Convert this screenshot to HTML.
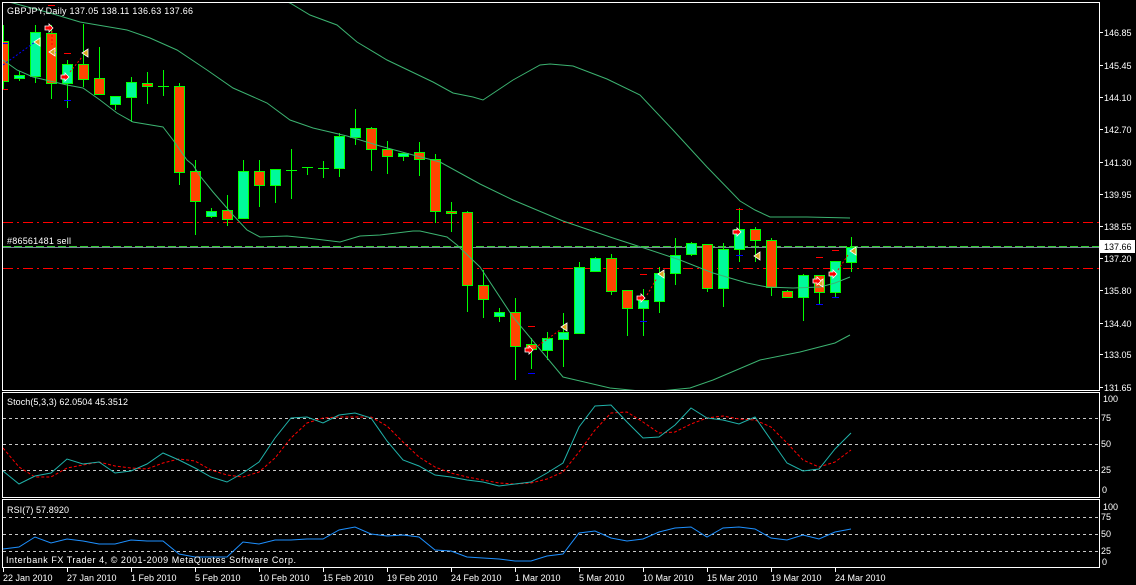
<!DOCTYPE html>
<html><head><meta charset="utf-8"><style>
html,body{margin:0;padding:0;background:#000;}
svg{display:block;}
text{font-family:"Liberation Sans",sans-serif;font-size:9px;fill:#fff;}
</style></head><body>
<svg width="1136" height="585" viewBox="0 0 1136 585" xmlns="http://www.w3.org/2000/svg">
<defs>
<clipPath id="cm"><rect x="3" y="3" width="1096" height="387"/></clipPath>
<clipPath id="cs"><rect x="3" y="393" width="1096" height="104"/></clipPath>
<clipPath id="cr"><rect x="3" y="500" width="1096" height="67"/></clipPath>
</defs>
<rect width="1136" height="585" fill="#000"/>

<g clip-path="url(#cm)">
<!-- horizontal order lines -->
<line x1="3" y1="222.5" x2="1099" y2="222.5" stroke="#ff0000" stroke-dasharray="10 4 2 4" shape-rendering="crispEdges"/>
<line x1="3" y1="268.5" x2="1099" y2="268.5" stroke="#ff0000" stroke-dasharray="10 4 2 4" shape-rendering="crispEdges"/>
<line x1="3" y1="246.5" x2="1099" y2="246.5" stroke="#32cd32" stroke-width="1.5" stroke-dasharray="8 3" shape-rendering="crispEdges"/>
<line x1="3" y1="247.5" x2="1099" y2="247.5" stroke="#778899" shape-rendering="crispEdges"/>

<!-- candles -->
<g shape-rendering="crispEdges">
<g fill="#00ff00">
<rect x="3" y="25" width="1" height="65"/>
<rect x="19" y="71" width="1" height="10"/>
<rect x="35" y="25" width="1" height="58"/>
<rect x="51" y="25" width="1" height="74"/>
<rect x="67" y="60" width="1" height="48"/>
<rect x="83" y="24" width="1" height="63"/>
<rect x="99" y="47" width="1" height="47"/>
<rect x="115" y="96" width="1" height="14"/>
<rect x="131" y="77" width="1" height="45"/>
<rect x="147" y="72" width="1" height="32"/>
<rect x="163" y="70" width="1" height="26"/>
<rect x="179" y="83" width="1" height="102"/>
<rect x="195" y="160" width="1" height="75"/>
<rect x="211" y="208" width="1" height="10"/>
<rect x="227" y="195" width="1" height="31"/>
<rect x="243" y="160" width="1" height="59"/>
<rect x="259" y="160" width="1" height="47"/>
<rect x="275" y="169" width="1" height="34"/>
<rect x="291" y="149" width="1" height="50"/>
<rect x="307" y="167" width="1" height="8"/>
<rect x="323" y="161" width="1" height="17"/>
<rect x="339" y="133" width="1" height="44"/>
<rect x="355" y="109" width="1" height="36"/>
<rect x="371" y="127" width="1" height="44"/>
<rect x="387" y="141" width="1" height="33"/>
<rect x="403" y="153" width="1" height="8"/>
<rect x="419" y="142" width="1" height="34"/>
<rect x="435" y="154" width="1" height="69"/>
<rect x="451" y="202" width="1" height="30"/>
<rect x="467" y="211" width="1" height="101"/>
<rect x="483" y="270" width="1" height="48"/>
<rect x="499" y="308" width="1" height="14"/>
<rect x="515" y="298" width="1" height="82"/>
<rect x="531" y="338" width="1" height="31"/>
<rect x="547" y="332" width="1" height="28"/>
<rect x="563" y="313" width="1" height="54"/>
<rect x="579" y="262" width="1" height="71"/>
<rect x="595" y="257" width="1" height="14"/>
<rect x="611" y="254" width="1" height="41"/>
<rect x="627" y="290" width="1" height="46"/>
<rect x="643" y="289" width="1" height="47"/>
<rect x="659" y="267" width="1" height="46"/>
<rect x="675" y="238" width="1" height="47"/>
<rect x="691" y="242" width="1" height="14"/>
<rect x="707" y="244" width="1" height="48"/>
<rect x="723" y="243" width="1" height="64"/>
<rect x="739" y="208" width="1" height="54"/>
<rect x="755" y="227" width="1" height="35"/>
<rect x="771" y="238" width="1" height="58"/>
<rect x="787" y="290" width="1" height="7"/>
<rect x="803" y="274" width="1" height="47"/>
<rect x="819" y="275" width="1" height="30"/>
<rect x="835" y="261" width="1" height="37"/>
<rect x="851" y="237" width="1" height="35"/>
<!-- dojis -->
<rect x="158" y="86" width="11" height="1"/>
<rect x="286" y="170" width="11" height="1"/>
<rect x="302" y="167" width="11" height="1"/>
<rect x="318" y="168" width="11" height="1"/>
</g>
<g stroke="#00ff00" stroke-width="1">
<!-- bear bodies -->
<g fill="#ff4500">
<rect x="-1.5" y="41.5" width="10" height="40"/>
<rect x="46.5" y="33.5" width="10" height="50"/>
<rect x="78.5" y="64.5" width="10" height="15"/>
<rect x="94.5" y="78.5" width="10" height="16"/>
<rect x="142.5" y="83.5" width="10" height="3"/>
<rect x="174.5" y="86.5" width="10" height="86"/>
<rect x="190.5" y="171.5" width="10" height="30"/>
<rect x="222.5" y="210.5" width="10" height="9"/>
<rect x="254.5" y="171.5" width="10" height="14"/>
<rect x="366.5" y="128.5" width="10" height="21"/>
<rect x="382.5" y="149.5" width="10" height="7"/>
<rect x="414.5" y="152.5" width="10" height="7"/>
<rect x="430.5" y="159.5" width="10" height="52"/>
<rect x="446.5" y="211.5" width="10" height="2"/>
<rect x="462.5" y="212.5" width="10" height="73"/>
<rect x="478.5" y="285.5" width="10" height="14"/>
<rect x="510.5" y="312.5" width="10" height="34"/>
<rect x="526.5" y="344.5" width="10" height="5"/>
<rect x="606.5" y="258.5" width="10" height="33"/>
<rect x="622.5" y="290.5" width="10" height="18"/>
<rect x="702.5" y="244.5" width="10" height="44"/>
<rect x="750.5" y="229.5" width="10" height="11"/>
<rect x="766.5" y="240.5" width="10" height="47"/>
<rect x="782.5" y="291.5" width="10" height="6"/>
<rect x="814.5" y="275.5" width="10" height="17"/>
</g>
<!-- bull bodies -->
<g fill="#00fa9a">
<rect x="14.5" y="75.5" width="10" height="3"/>
<rect x="30.5" y="32.5" width="10" height="44"/>
<rect x="62.5" y="64.5" width="10" height="19"/>
<rect x="110.5" y="96.5" width="10" height="8"/>
<rect x="126.5" y="82.5" width="10" height="15"/>
<rect x="206.5" y="211.5" width="10" height="5"/>
<rect x="238.5" y="171.5" width="10" height="47"/>
<rect x="270.5" y="169.5" width="10" height="16"/>
<rect x="334.5" y="136.5" width="10" height="32"/>
<rect x="350.5" y="128.5" width="10" height="9"/>
<rect x="398.5" y="153.5" width="10" height="3"/>
<rect x="494.5" y="312.5" width="10" height="4"/>
<rect x="542.5" y="338.5" width="10" height="12"/>
<rect x="558.5" y="332.5" width="10" height="7"/>
<rect x="574.5" y="267.5" width="10" height="66"/>
<rect x="590.5" y="258.5" width="10" height="13"/>
<rect x="638.5" y="300.5" width="10" height="8"/>
<rect x="654.5" y="273.5" width="10" height="28"/>
<rect x="670.5" y="255.5" width="10" height="18"/>
<rect x="686.5" y="243.5" width="10" height="11"/>
<rect x="718.5" y="249.5" width="10" height="39"/>
<rect x="734.5" y="229.5" width="10" height="20"/>
<rect x="798.5" y="275.5" width="10" height="22"/>
<rect x="830.5" y="261.5" width="10" height="31"/>
<rect x="846.5" y="247.5" width="10" height="15"/>
</g>
</g>
</g>

<!-- Bollinger bands -->
<g fill="none" stroke="#3cb371" stroke-width="1">
<polyline points="287,2 290,3 310,15 337,25 357,42 387,60 433,82 453,93 473,97 483,100 513,80 540,65 550,64 573,66 607,79 640,95 673,130 707,167 740,201 755,210 770,217 807,217 850,218"/>
<polyline points="3,1 13,3 50,13 80,22 127,30 150,38 177,50 207,70 233,88 267,103 290,120 313,128 347,136 380,146 413,155 440,162 480,184 513,200 563,221 613,238 647,249 680,260 713,273 747,283 767,287 793,288 820,287 835,283 850,277"/>
<polyline points="3,60 17,70 33,77 67,85 83,88 100,100 117,113 133,122 163,127 173,140 187,160 193,165 200,176 213,192 233,215 247,230 260,237 287,236 307,238 340,242 360,236 380,235 413,231 420,231 447,237 457,245 480,267 513,317 563,377 610,388 650,392 690,388 713,380 760,360 800,352 835,343 850,335"/>
</g>

<!-- trade lines -->
<g fill="none" stroke-width="1" stroke-dasharray="2 2">
<line x1="3" y1="65" x2="35" y2="42" stroke="#0000ff"/>
<line x1="52" y1="31" x2="52" y2="47" stroke="#ff0000"/>
<line x1="70" y1="72" x2="82" y2="57" stroke="#ff0000"/>
<line x1="535" y1="348" x2="560" y2="330" stroke="#ff0000"/>
<line x1="647" y1="295" x2="657" y2="278" stroke="#ff0000"/>
<line x1="838" y1="270" x2="848" y2="255" stroke="#ff0000"/>
</g>
<!-- SL/TP dashes -->
<g shape-rendering="crispEdges">
<g fill="#ff0000">
<rect x="3" y="89" width="5" height="1"/>
<rect x="48" y="5" width="7" height="1"/>
<rect x="64" y="53" width="7" height="1"/>
<rect x="528" y="326" width="7" height="1"/>
<rect x="640" y="274" width="7" height="1"/>
<rect x="736" y="209" width="7" height="1"/>
<rect x="816" y="257" width="7" height="1"/>
<rect x="832" y="250" width="7" height="1"/>
</g>
<g fill="#0000ff">
<rect x="3" y="43" width="5" height="1"/>
<rect x="49" y="52" width="7" height="1"/>
<rect x="64" y="100" width="7" height="1"/>
<rect x="528" y="373" width="7" height="1"/>
<rect x="640" y="321" width="7" height="1"/>
<rect x="736" y="255" width="7" height="1"/>
<rect x="816" y="304" width="7" height="1"/>
<rect x="832" y="297" width="7" height="1"/>
</g>
</g>
<!-- close markers (left triangles) -->
<g fill="#daa520" stroke="#ffffff" stroke-width="0.8">
<polygon points="34,42 40,38 40,46"/>
<polygon points="49,52 55,48 55,56"/>
<polygon points="82,53 88,49 88,57"/>
<polygon points="561,327 567,323 567,331"/>
<polygon points="658,274 664,270 664,278"/>
<polygon points="754,256 760,252 760,260"/>
<polygon points="817,283 823,279 823,287"/>
<polygon points="850,251 856,247 856,255"/>
</g>
<!-- open markers (right arrows) -->
<g fill="#ff0000" stroke="#ffffff" stroke-width="0.8">
<polygon points="45,26 49,26 49,24 53,28 49,32 49,30 45,30"/>
<polygon points="61,75 65,75 65,73 69,77 65,81 65,79 61,79"/>
<polygon points="525,348 529,348 529,346 533,350 529,354 529,352 525,352"/>
<polygon points="637,296 641,296 641,294 645,298 641,302 641,300 637,300"/>
<polygon points="733,230 737,230 737,228 741,232 737,236 737,234 733,234"/>
<polygon points="813,279 817,279 817,277 821,281 817,285 817,283 813,283"/>
<polygon points="829,272 833,272 833,270 837,274 833,278 833,276 829,276"/>
</g>
</g>

<!-- Stochastic -->
<g clip-path="url(#cs)">
<g stroke="#c8c8c8" stroke-dasharray="3 3" shape-rendering="crispEdges">
<line x1="3" y1="418.5" x2="1099" y2="418.5"/>
<line x1="3" y1="444.5" x2="1099" y2="444.5"/>
<line x1="3" y1="470.5" x2="1099" y2="470.5"/>
</g>
<polyline fill="none" stroke="#ff0000" stroke-width="1" stroke-dasharray="3 2" points="3,448 19,467 35,477 51,477 67,468 83,465 99,462 115,466 131,468 147,469 163,463 179,459 195,461 211,470 227,475 243,477 259,472 275,458 291,438 307,423 323,418 339,417 355,417 371,417 387,426 403,442 419,457 435,467 451,473 467,477 483,480 499,483 515,484 531,483 547,479 563,472 579,452 595,430 611,413 627,412 643,422 659,433 675,432 691,424 707,418 723,416 739,419 755,420 771,427 787,443 803,460 819,467 835,462 851,450"/>
<polyline fill="none" stroke="#20b2aa" stroke-width="1" points="3,471 19,484 35,476 51,473 67,459 83,464 99,462 115,473 131,471 147,464 163,453 179,460 195,468 211,477 227,482 243,473 259,462 275,438 291,418 307,417 323,423 339,415 355,413 371,418 387,441 403,460 419,466 435,475 451,477 467,480 483,482 499,486 515,484 531,482 547,473 563,463 579,427 595,406 611,405 627,422 643,438 659,437 675,425 691,408 707,418 723,420 739,424 755,417 771,440 787,463 803,471 819,469 835,449 851,433"/>
</g>

<!-- RSI -->
<g clip-path="url(#cr)">
<g stroke="#c8c8c8" stroke-dasharray="3 3" shape-rendering="crispEdges">
<line x1="3" y1="517.5" x2="1099" y2="517.5"/>
<line x1="3" y1="534.5" x2="1099" y2="534.5"/>
<line x1="3" y1="551.5" x2="1099" y2="551.5"/>
</g>
<polyline fill="none" stroke="#1e90ff" stroke-width="1" points="3,549 19,547 35,537 51,543 67,539 83,541 99,544 115,544 131,540 147,541 163,541 179,554 195,557 211,557 227,557 243,542 259,544 275,540 291,540 307,539 323,539 339,530 355,527 371,534 387,536 403,535 419,537 435,550 451,551 467,557 483,558 499,559 515,561 531,561 547,556 563,554 579,533 595,531 611,538 627,541 643,539 659,532 675,528 691,527 707,537 723,528 739,527 755,529 771,538 787,540 803,535 819,539 835,532 851,529"/>
</g>

<!-- panel borders -->
<g fill="none" stroke="#ffffff" stroke-width="1" shape-rendering="crispEdges">
<rect x="2.5" y="2.5" width="1097" height="388"/>
<rect x="2.5" y="392.5" width="1097" height="105"/>
<rect x="2.5" y="499.5" width="1097" height="68"/>
</g>

<!-- texts in panels -->
<text x="7" y="14" textLength="186" lengthAdjust="spacing">GBPJPY,Daily  137.05 138.11 136.63 137.66</text>
<text x="7" y="244" textLength="64" lengthAdjust="spacing">#86561481 sell</text>
<text x="7" y="405" textLength="121" lengthAdjust="spacing">Stoch(5,3,3) 62.0504 45.3512</text>
<text x="7" y="513" textLength="62" lengthAdjust="spacing">RSI(7) 57.8920</text>
<text x="6" y="563" textLength="290" lengthAdjust="spacing">Interbank FX Trader 4, © 2001-2009 MetaQuotes Software Corp.</text>

<!-- price axis -->
<g stroke="#ffffff" shape-rendering="crispEdges">
<line x1="1100" y1="32.5" x2="1103" y2="32.5"/>
<line x1="1100" y1="65.5" x2="1103" y2="65.5"/>
<line x1="1100" y1="97.5" x2="1103" y2="97.5"/>
<line x1="1100" y1="129.5" x2="1103" y2="129.5"/>
<line x1="1100" y1="162.5" x2="1103" y2="162.5"/>
<line x1="1100" y1="194.5" x2="1103" y2="194.5"/>
<line x1="1100" y1="226.5" x2="1103" y2="226.5"/>
<line x1="1100" y1="258.5" x2="1103" y2="258.5"/>
<line x1="1100" y1="290.5" x2="1103" y2="290.5"/>
<line x1="1100" y1="323.5" x2="1103" y2="323.5"/>
<line x1="1100" y1="354.5" x2="1103" y2="354.5"/>
<line x1="1100" y1="387.5" x2="1103" y2="387.5"/>
</g>
<text x="1104" y="36">146.85</text>
<text x="1104" y="69">145.45</text>
<text x="1104" y="101">144.10</text>
<text x="1104" y="133">142.70</text>
<text x="1104" y="166">141.30</text>
<text x="1104" y="198">139.95</text>
<text x="1104" y="230">138.55</text>
<text x="1104" y="262">137.20</text>
<text x="1104" y="294">135.80</text>
<text x="1104" y="327">134.40</text>
<text x="1104" y="358">133.05</text>
<text x="1104" y="391">131.65</text>
<rect x="1100" y="240" width="35" height="13" fill="#ffffff"/>
<text x="1104" y="250" style="fill:#000">137.66</text>

<!-- stoch axis -->
<text x="1103" y="402">100</text>
<text x="1101" y="421">75</text>
<text x="1101" y="447">50</text>
<text x="1101" y="473">25</text>
<text x="1102" y="493">0</text>
<!-- rsi axis -->
<text x="1103" y="510">100</text>
<text x="1101" y="520">75</text>
<text x="1101" y="537">50</text>
<text x="1101" y="554">25</text>
<text x="1102" y="565">0</text>

<!-- time axis -->
<g stroke="#ffffff" shape-rendering="crispEdges">
<line x1="3.5" y1="568" x2="3.5" y2="572"/>
<line x1="67.5" y1="568" x2="67.5" y2="572"/>
<line x1="131.5" y1="568" x2="131.5" y2="572"/>
<line x1="195.5" y1="568" x2="195.5" y2="572"/>
<line x1="259.5" y1="568" x2="259.5" y2="572"/>
<line x1="323.5" y1="568" x2="323.5" y2="572"/>
<line x1="387.5" y1="568" x2="387.5" y2="572"/>
<line x1="451.5" y1="568" x2="451.5" y2="572"/>
<line x1="515.5" y1="568" x2="515.5" y2="572"/>
<line x1="579.5" y1="568" x2="579.5" y2="572"/>
<line x1="643.5" y1="568" x2="643.5" y2="572"/>
<line x1="707.5" y1="568" x2="707.5" y2="572"/>
<line x1="771.5" y1="568" x2="771.5" y2="572"/>
<line x1="835.5" y1="568" x2="835.5" y2="572"/>
</g>
<text x="3" y="581">22 Jan 2010</text>
<text x="67" y="581">27 Jan 2010</text>
<text x="131" y="581">1 Feb 2010</text>
<text x="195" y="581">5 Feb 2010</text>
<text x="259" y="581">10 Feb 2010</text>
<text x="323" y="581">15 Feb 2010</text>
<text x="387" y="581">19 Feb 2010</text>
<text x="451" y="581">24 Feb 2010</text>
<text x="515" y="581">1 Mar 2010</text>
<text x="579" y="581">5 Mar 2010</text>
<text x="643" y="581">10 Mar 2010</text>
<text x="707" y="581">15 Mar 2010</text>
<text x="771" y="581">19 Mar 2010</text>
<text x="835" y="581">24 Mar 2010</text>
</svg>
</body></html>
